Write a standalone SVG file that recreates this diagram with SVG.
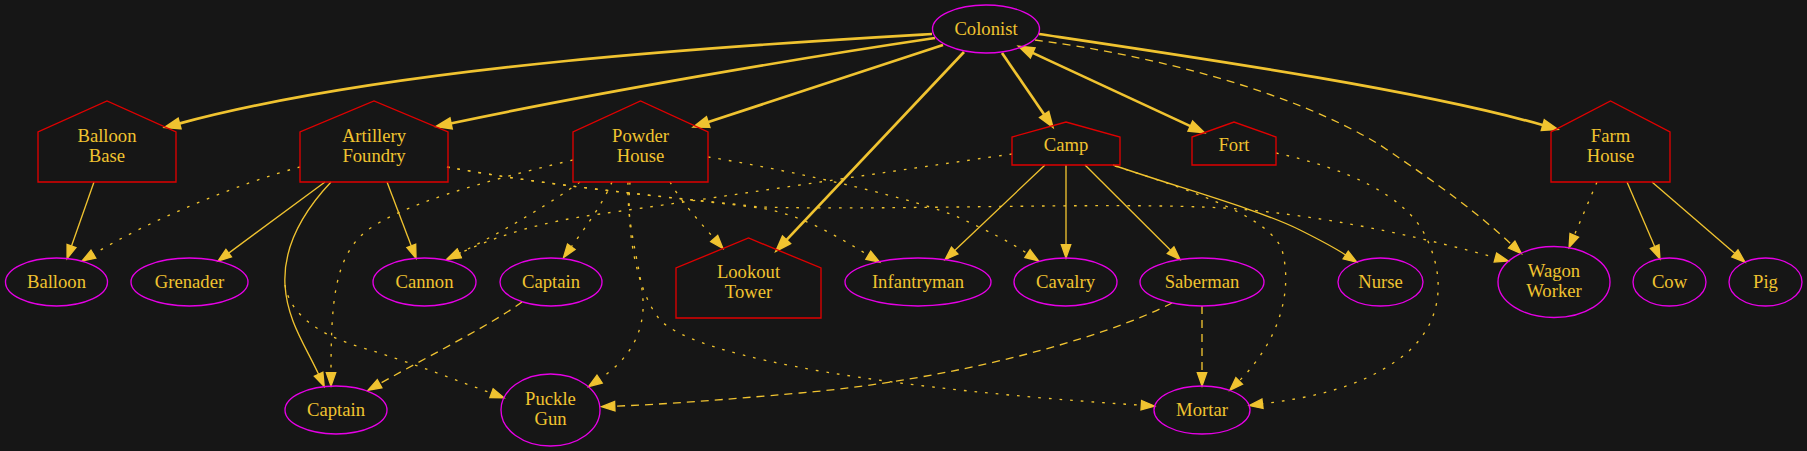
<svg xmlns="http://www.w3.org/2000/svg" width="1807" height="451" viewBox="0 0 1807 451" font-family="'Liberation Serif', 'Times New Roman', serif">
<style>
.bg{fill:#161616}
.house polygon{fill:none;stroke:#e00000;stroke-width:1.33}
.ell ellipse{fill:none;stroke:#e600e6;stroke-width:1.33}
text{font-family:'Liberation Serif','Times New Roman',serif;font-size:18.67px;fill:#f0c330;text-anchor:middle}
.edges path{fill:none;stroke:#f0c330;stroke-width:1.33;marker-end:url(#ah)}
.edges path.thick{stroke-width:2.67;marker-end:url(#ahb)}
.edges path.dot{stroke-dasharray:2.67 8}
.edges path.dash{stroke-dasharray:8 6}
.edges path.both{marker-start:url(#ahb)}
</style>
<defs>
<marker id="ah" markerUnits="userSpaceOnUse" viewBox="-2 -8 20 16" markerWidth="20" markerHeight="16" refX="0" refY="0" orient="auto-start-reverse" overflow="visible">
<path d="M0,-4.7 L13.3,0 L0,4.7 Z" fill="#f0c330" stroke="#f0c330" stroke-width="1.33"/>
</marker>
<marker id="ahb" markerUnits="userSpaceOnUse" viewBox="-2 -8 20 16" markerWidth="20" markerHeight="16" refX="0" refY="0" orient="auto-start-reverse" overflow="visible">
<path d="M0,-4.7 L13.3,0 L0,4.7 Z" fill="#f0c330" stroke="#f0c330" stroke-width="2.67"/>
</marker>
</defs>
<rect class="bg" x="0" y="0" width="1807" height="451"/>

<g id="edges" class="edges">
<path class="thick" d="M932,34 C760,44 400,64 179,123.6"/>
<path class="thick" d="M935,38 C800,58 600,92 450.5,123.5"/>
<path class="thick" d="M943,45 L707.6,122.3"/>
<path class="thick" d="M964,52 L786.1,240.3"/>
<path class="thick" d="M1002,53 L1044.5,115"/>
<path class="thick both" d="M1032.1,52.6 L1190.9,126.4"/>
<path class="thick" d="M1039,34 C1200,58 1420,90 1543.4,125.3"/>
<path class="dash" d="M1035,40 C1150,55 1290,90 1380,145 C1440,185 1480,215 1511.7,244.6"/>

<path d="M94,182 L71.5,246"/>
<path class="dot" d="M300,167 C240,183 150,220 93.4,254.2"/>
<path d="M325,182 L228.7,253.1"/>
<path d="M331,182 C300,215 283,250 285,285 C287,320 305,345 318.6,374.3"/>
<path class="dot" d="M285,285 C290,315 320,335 360,347 C410,362 450,378 491.5,393.2"/>
<path d="M387,182 L411.3,245.9"/>
<path class="dot" d="M447,167 C560,188 700,200 760,208 C800,214 835,235 868.3,255.2"/>
<path class="dot" d="M447,167 C560,188 700,200 760,207 C900,211 1150,200 1250,210 C1350,220 1430,240 1495.4,257.5"/>

<path class="dot" d="M573,160 C480,182 400,205 365,232 C335,258 331,300 331,372.7"/>
<path class="dot" d="M580,182 C555,200 510,228 459.2,253.4"/>
<path class="dot" d="M1012,154 C900,170 700,200 600,214 C540,222 500,235 459.2,253.4"/>
<path class="dot" d="M612,182 C602,205 585,228 571.3,246.8"/>
<path class="dot" d="M670,182 C680,200 698,220 714.2,238.5"/>
<path class="dot" d="M628,182 C626,230 645,280 643,310 C641,340 625,362 599.6,379.1"/>
<path class="dot" d="M630,182 C626,230 636,290 660,320 C700,360 900,390 1141.3,405.2"/>
<path class="dot" d="M708,157 C800,172 920,200 960,218 C990,232 1010,242 1027.5,253.6"/>

<path d="M1045,165 L954.7,250.5"/>
<path d="M1066,165 L1066,244.7"/>
<path d="M1085,165 L1170.6,250.2"/>
<path d="M1113,165 C1180,188 1260,210 1300,230 C1320,240 1335,248 1345.7,255"/>
<path class="dot" d="M1115,166 C1200,193 1270,218 1282,250 C1293,290 1280,340 1239.2,380.9"/>
<path class="dot" d="M1276,153 C1345,168 1405,195 1425,235 C1450,285 1440,335 1390,365 C1355,388 1310,398 1262.5,403.8"/>

<path class="dot" d="M1597,182 L1574.3,235.3"/>
<path d="M1627,182 L1654.7,246.6"/>
<path d="M1652,182 L1734.9,253.4"/>

<path class="dash" d="M522,302 C490,325 440,350 379.6,383.7"/>
<path class="dash" d="M1172,303 C1100,340 950,380 800,393 C720,400 670,404 614.8,406.2"/>
<path class="dash" d="M1202,306 L1202,372.7"/>
</g>

<g id="colonist" class="ell"><ellipse cx="986" cy="29" rx="53.5" ry="24"/><text x="986" y="35">Colonist</text></g>

<g id="balloon_base" class="house"><polygon points="38,182 176,182 176,132 107,101 38,132"/><text x="107" y="142">Balloon</text><text x="107" y="162">Base</text></g>
<g id="artillery_foundry" class="house"><polygon points="300,182 448,182 448,132 374,101 300,132"/><text x="374" y="142">Artillery</text><text x="374" y="162">Foundry</text></g>
<g id="powder_house" class="house"><polygon points="573,182 708,182 708,132 640.5,101 573,132"/><text x="640.5" y="142">Powder</text><text x="640.5" y="162">House</text></g>
<g id="camp" class="house"><polygon points="1012,165 1120,165 1120,137 1066,122 1012,137"/><text x="1066" y="151">Camp</text></g>
<g id="fort" class="house"><polygon points="1192,165 1276,165 1276,137 1234,122 1192,137"/><text x="1234" y="151">Fort</text></g>
<g id="farm_house" class="house"><polygon points="1551,182 1670,182 1670,132 1610.5,101 1551,132"/><text x="1610.5" y="142">Farm</text><text x="1610.5" y="162">House</text></g>
<g id="lookout_tower" class="house"><polygon points="676,318 821,318 821,268 748.5,238 676,268"/><text x="748.5" y="278">Lookout</text><text x="748.5" y="298">Tower</text></g>

<g id="balloon" class="ell"><ellipse cx="56.5" cy="282" rx="51" ry="24"/><text x="56.5" y="288">Balloon</text></g>
<g id="grenader" class="ell"><ellipse cx="189.5" cy="282" rx="58.5" ry="24"/><text x="189.5" y="288">Grenader</text></g>
<g id="cannon" class="ell"><ellipse cx="424.5" cy="282" rx="51.5" ry="24"/><text x="424.5" y="288">Cannon</text></g>
<g id="captain_top" class="ell"><ellipse cx="551" cy="282" rx="51" ry="24"/><text x="551" y="288">Captain</text></g>
<g id="infantryman" class="ell"><ellipse cx="918" cy="282" rx="73" ry="24"/><text x="918" y="288">Infantryman</text></g>
<g id="cavalry" class="ell"><ellipse cx="1065.5" cy="282" rx="51.5" ry="24"/><text x="1065.5" y="288">Cavalry</text></g>
<g id="saberman" class="ell"><ellipse cx="1202" cy="282" rx="62" ry="24"/><text x="1202" y="288">Saberman</text></g>
<g id="nurse" class="ell"><ellipse cx="1380.5" cy="282" rx="42.5" ry="24"/><text x="1380.5" y="288">Nurse</text></g>
<g id="wagon_worker" class="ell"><ellipse cx="1554" cy="282" rx="56" ry="35.5"/><text x="1554" y="277">Wagon</text><text x="1554" y="297">Worker</text></g>
<g id="cow" class="ell"><ellipse cx="1669.5" cy="282" rx="36.5" ry="24"/><text x="1669.5" y="288">Cow</text></g>
<g id="pig" class="ell"><ellipse cx="1765.5" cy="282" rx="36.5" ry="24"/><text x="1765.5" y="288">Pig</text></g>
<g id="captain_bottom" class="ell"><ellipse cx="336" cy="410" rx="51" ry="24"/><text x="336" y="416">Captain</text></g>
<g id="puckle_gun" class="ell"><ellipse cx="550.5" cy="410" rx="49.5" ry="36"/><text x="550.5" y="405">Puckle</text><text x="550.5" y="425">Gun</text></g>
<g id="mortar" class="ell"><ellipse cx="1202" cy="410" rx="48" ry="24"/><text x="1202" y="416">Mortar</text></g>
</svg>
